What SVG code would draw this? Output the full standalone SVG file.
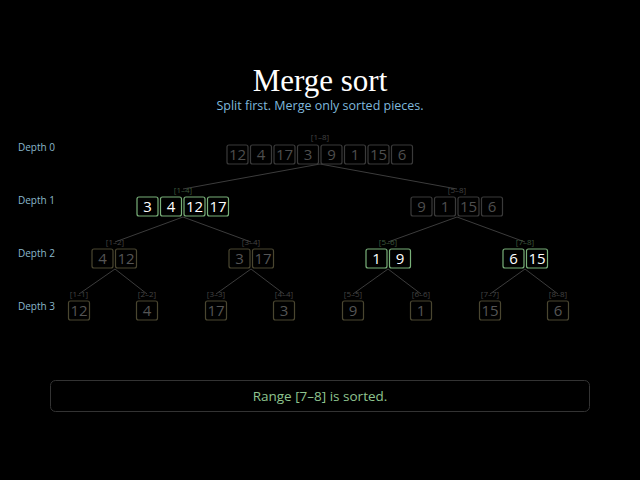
<svg xmlns="http://www.w3.org/2000/svg" width="640" height="480" viewBox="0 0 640 480">
<style>
.c{fill:#000;stroke-width:1.2}
.d rect{stroke:#3a3a3a}.d text{fill:#4e4e4e}
.o rect{stroke:#4a4630}.o text{fill:#555}
.g rect{stroke:#79b079}.g text{fill:#fff}
.v{font-family:"Open Sans","DejaVu Sans",sans-serif;font-size:15px;text-anchor:middle}
.r{font-family:"Open Sans","DejaVu Sans",sans-serif;font-size:8px;text-anchor:middle}
g text.r{fill:#444}
g.g text.r{fill:#3e5a3e}
.lab{font-family:"Open Sans","DejaVu Sans",sans-serif;font-size:10px;fill:#8ab8cc}
.e line{stroke:#3c3c3c;stroke-width:1}
</style>
<rect width="640" height="480" fill="#000"/>
<text x="320" y="91" font-family="Liberation Serif,serif" font-size="31" fill="#fff" text-anchor="middle">Merge sort</text>
<text x="320" y="110" font-family="Open Sans,DejaVu Sans,sans-serif" font-size="12.5" fill="#7fb8dc" text-anchor="middle">Split first. Merge only sorted pieces.</text>
<text class="lab" x="18" y="151">Depth 0</text>
<text class="lab" x="18" y="204">Depth 1</text>
<text class="lab" x="18" y="257">Depth 2</text>
<text class="lab" x="18" y="310">Depth 3</text>
<g class="e">
<line x1="320" y1="164" x2="183" y2="189"/><line x1="320" y1="164" x2="457" y2="189"/>
<line x1="183" y1="217" x2="115" y2="242"/><line x1="183" y1="217" x2="251" y2="242"/>
<line x1="457" y1="217" x2="388" y2="242"/><line x1="457" y1="217" x2="525" y2="242"/>
<line x1="115" y1="269" x2="79" y2="294"/><line x1="115" y1="269" x2="147" y2="294"/>
<line x1="251" y1="269" x2="216" y2="294"/><line x1="251" y1="269" x2="284" y2="294"/>
<line x1="388" y1="269" x2="353" y2="294"/><line x1="388" y1="269" x2="421" y2="294"/>
<line x1="525" y1="269" x2="490" y2="294"/><line x1="525" y1="269" x2="558" y2="294"/>
</g>
<g id="n18" class="d"><text class="r" x="320" y="140">[1–8]</text>
<rect class="c" x="227" y="145" width="21" height="19" rx="2"/><text class="v" x="237.5" y="160">12</text>
<rect class="c" x="250.5" y="145" width="21" height="19" rx="2"/><text class="v" x="261" y="160">4</text>
<rect class="c" x="274" y="145" width="21" height="19" rx="2"/><text class="v" x="284.5" y="160">17</text>
<rect class="c" x="297.5" y="145" width="21" height="19" rx="2"/><text class="v" x="308" y="160">3</text>
<rect class="c" x="321" y="145" width="21" height="19" rx="2"/><text class="v" x="331.5" y="160">9</text>
<rect class="c" x="344.5" y="145" width="21" height="19" rx="2"/><text class="v" x="355" y="160">1</text>
<rect class="c" x="368" y="145" width="21" height="19" rx="2"/><text class="v" x="378.5" y="160">15</text>
<rect class="c" x="391.5" y="145" width="21" height="19" rx="2"/><text class="v" x="402" y="160">6</text></g>
<g id="n14" class="g"><text class="r" x="183" y="193">[1–4]</text>
<rect class="c" x="137" y="197" width="21" height="19" rx="2"/><text class="v" x="147.5" y="212">3</text>
<rect class="c" x="160.5" y="197" width="21" height="19" rx="2"/><text class="v" x="171" y="212">4</text>
<rect class="c" x="184" y="197" width="21" height="19" rx="2"/><text class="v" x="194.5" y="212">12</text>
<rect class="c" x="207.5" y="197" width="21" height="19" rx="2"/><text class="v" x="218" y="212">17</text></g>
<g id="n58" class="d"><text class="r" x="457" y="193">[5–8]</text>
<rect class="c" x="411" y="197" width="21" height="19" rx="2"/><text class="v" x="421.5" y="212">9</text>
<rect class="c" x="434.5" y="197" width="21" height="19" rx="2"/><text class="v" x="445" y="212">1</text>
<rect class="c" x="458" y="197" width="21" height="19" rx="2"/><text class="v" x="468.5" y="212">15</text>
<rect class="c" x="481.5" y="197" width="21" height="19" rx="2"/><text class="v" x="492" y="212">6</text></g>
<g id="n12" class="o"><text class="r" x="115" y="245">[1–2]</text>
<rect class="c" x="92" y="249" width="21" height="19" rx="2"/><text class="v" x="102.5" y="264">4</text>
<rect class="c" x="115.5" y="249" width="21" height="19" rx="2"/><text class="v" x="126" y="264">12</text></g>
<g id="n34" class="o"><text class="r" x="251" y="245">[3–4]</text>
<rect class="c" x="229" y="249" width="21" height="19" rx="2"/><text class="v" x="239.5" y="264">3</text>
<rect class="c" x="252.5" y="249" width="21" height="19" rx="2"/><text class="v" x="263" y="264">17</text></g>
<g id="n56" class="g"><text class="r" x="388" y="245">[5–6]</text>
<rect class="c" x="366" y="249" width="21" height="19" rx="2"/><text class="v" x="376.5" y="264">1</text>
<rect class="c" x="389.5" y="249" width="21" height="19" rx="2"/><text class="v" x="400" y="264">9</text></g>
<g id="n78" class="g"><text class="r" x="525" y="245">[7–8]</text>
<rect class="c" x="503" y="249" width="21" height="19" rx="2"/><text class="v" x="513.5" y="264">6</text>
<rect class="c" x="526.5" y="249" width="21" height="19" rx="2"/><text class="v" x="537" y="264">15</text></g>
<g id="n11" class="o"><text class="r" x="79" y="297">[1–1]</text><rect class="c" x="68.5" y="301" width="21" height="19" rx="2"/><text class="v" x="79" y="316">12</text></g>
<g id="n22" class="o"><text class="r" x="147" y="297">[2–2]</text><rect class="c" x="136.5" y="301" width="21" height="19" rx="2"/><text class="v" x="147" y="316">4</text></g>
<g id="n33" class="o"><text class="r" x="216" y="297">[3–3]</text><rect class="c" x="205.5" y="301" width="21" height="19" rx="2"/><text class="v" x="216" y="316">17</text></g>
<g id="n44" class="o"><text class="r" x="284" y="297">[4–4]</text><rect class="c" x="273.5" y="301" width="21" height="19" rx="2"/><text class="v" x="284" y="316">3</text></g>
<g id="n55" class="o"><text class="r" x="353" y="297">[5–5]</text><rect class="c" x="342.5" y="301" width="21" height="19" rx="2"/><text class="v" x="353" y="316">9</text></g>
<g id="n66" class="o"><text class="r" x="421" y="297">[6–6]</text><rect class="c" x="410.5" y="301" width="21" height="19" rx="2"/><text class="v" x="421" y="316">1</text></g>
<g id="n77" class="o"><text class="r" x="490" y="297">[7–7]</text><rect class="c" x="479.5" y="301" width="21" height="19" rx="2"/><text class="v" x="490" y="316">15</text></g>
<g id="n88" class="o"><text class="r" x="558" y="297">[8–8]</text><rect class="c" x="547.5" y="301" width="21" height="19" rx="2"/><text class="v" x="558" y="316">6</text></g>
<g id="status"><rect x="50.5" y="380.5" width="539" height="31" rx="5" fill="#000" stroke="#333"/>
<text x="320" y="401" font-family="Open Sans,DejaVu Sans,sans-serif" font-size="13.5" fill="#8fc48f" text-anchor="middle">Range [7–8] is sorted.</text></g>
</svg>
